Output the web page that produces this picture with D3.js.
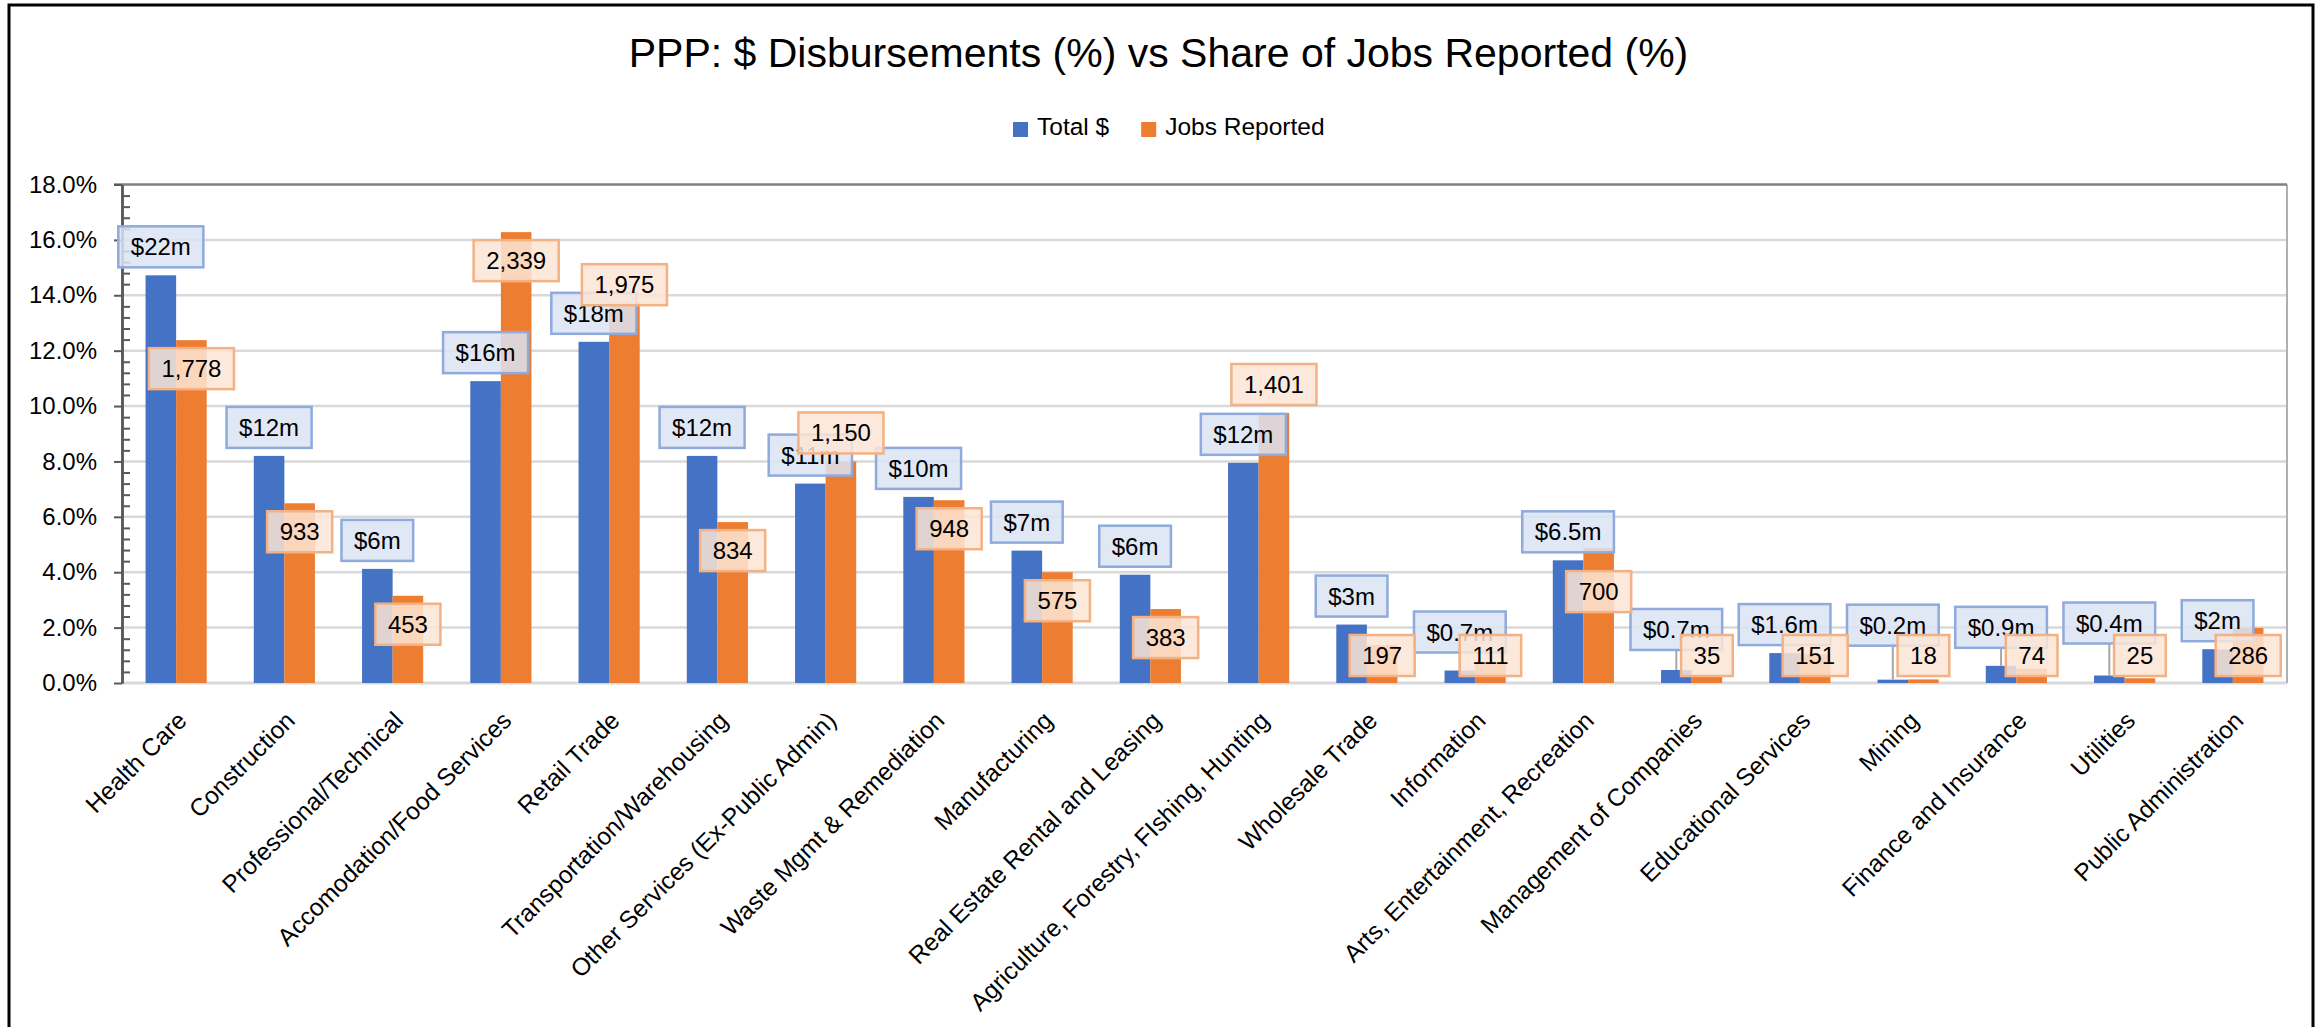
<!DOCTYPE html>
<html>
<head>
<meta charset="utf-8">
<script src="https://cdn.jsdelivr.net/npm/d3@7"></script>
<style>
  body { margin: 0; background: #ffffff; }
  text { font-family: 'Liberation Sans', Arial, sans-serif; }
</style>
</head>
<body>
<div id="vis"></div>
<script>
var w = 2323;
var h = 1027;

// industries, in the order shown
var categories = ['Health Care', 'Construction', 'Professional/Technical', 'Accomodation/Food Services',
  'Retail Trade', 'Transportation/Warehousing', 'Other Services (Ex-Public Admin)', 'Waste Mgmt & Remediation',
  'Manufacturing', 'Real Estate Rental and Leasing', 'Agriculture, Forestry, FIshing, Hunting', 'Wholesale Trade',
  'Information', 'Arts, Entertainment, Recreation', 'Management of Companies', 'Educational Services',
  'Mining', 'Finance and Insurance', 'Utilities', 'Public Administration'];

// share of $ disbursed (%)
var dollarShare = [14.72, 8.2, 4.12, 10.9, 12.32, 8.2, 7.2, 6.72, 4.78, 3.91,
  7.95, 2.11, 0.45, 4.43, 0.47, 1.08, 0.12, 0.62, 0.27, 1.22];
// share of jobs reported (%)
var jobsShare = [12.38, 6.49, 3.15, 16.28, 13.75, 5.81, 8.0, 6.6, 4.0, 2.67,
  9.75, 1.37, 0.77, 4.87, 0.24, 1.05, 0.13, 0.52, 0.17, 1.99];

var dollarLabels = ['$22m', '$12m', '$6m', '$16m', '$18m', '$12m', '$11m', '$10m', '$7m', '$6m',
  '$12m', '$3m', '$0.7m', '$6.5m', '$0.7m', '$1.6m', '$0.2m', '$0.9m', '$0.4m', '$2m'];
var jobsLabels = ['1,778', '933', '453', '2,339', '1,975', '834', '1,150', '948', '575', '383',
  '1,401', '197', '111', '700', '35', '151', '18', '74', '25', '286'];

var yTicks = [0, 2, 4, 6, 8, 10, 12, 14, 16, 18];
var seriesNames = ['Total $', 'Jobs Reported'];

// label nudges (px) where the labels were dragged in the original
var dollarNudge = [0, 0, 0, 0, 0, 0, 0, 0, 0, 0, 0, 0, -10, 0, -12, 0, -26, -10, -24, 0];
var jobsOutside = [4, 6, 10];
var jobsNudge = [0, 0, 0, 0, 11, 0, 0, 0, 0, 0, 0, 0, 0, 15, 0, 0, 0, 0, 0, 0];

var blue = '#4472c4';
var orange = '#ed7d31';

var plot = { left: 122, right: 2287, top: 184.5, bottom: 683 };

var svg = d3.select('#vis')
  .append('svg')
    .attr('width', w)
    .attr('height', h)
    .style('background', '#ffffff');

// outer chart frame
svg.append('rect')
  .attr('x', 9)
  .attr('y', 5)
  .attr('width', 2304)
  .attr('height', 1100)
  .style('fill', '#ffffff')
  .style('stroke', '#000000')
  .style('stroke-width', 3);

// title
svg.append('text')
  .attr('x', 1158.5)
  .attr('y', 67)
  .attr('text-anchor', 'middle')
  .style('font-size', '41px')
  .style('fill', '#000000')
  .text('PPP: $ Disbursements (%) vs Share of Jobs Reported (%)');

// legend
var legend = svg.append('g').attr('transform', 'translate(1013,122)');
var lx = 0;
seriesNames.forEach(function(name, i) {
  legend.append('rect')
    .attr('x', lx)
    .attr('y', 0)
    .attr('width', 15)
    .attr('height', 15)
    .style('fill', i === 0 ? blue : orange);
  var t = legend.append('text')
    .attr('x', lx + 24)
    .attr('y', 13)
    .style('font-size', '24.5px')
    .style('fill', '#000000')
    .text(name);
  lx += 24 + t.node().getComputedTextLength() + 32;
});

var x0 = d3.scaleBand()
  .domain(categories)
  .range([plot.left, plot.right])
  .paddingInner(0.435)
  .paddingOuter(0.2175);

var x1 = d3.scaleBand()
  .domain([0, 1])
  .range([0, x0.bandwidth()]);

var y = d3.scaleLinear()
  .domain([0, 18])
  .range([plot.bottom, plot.top]);

// gridlines
svg.append('g')
  .selectAll('line')
  .data(yTicks.filter(function(d) { return d > 0 && d < 18; }))
  .enter()
  .append('line')
    .attr('x1', plot.left)
    .attr('x2', plot.right)
    .attr('y1', function(d) { return y(d); })
    .attr('y2', function(d) { return y(d); })
    .style('stroke', '#d9d9d9')
    .style('stroke-width', 2.5);

// plot area edges
svg.append('line')
  .attr('x1', plot.left).attr('x2', plot.right)
  .attr('y1', y(0)).attr('y2', y(0))
  .style('stroke', '#d9d9d9').style('stroke-width', 3);
svg.append('line')
  .attr('x1', plot.right).attr('x2', plot.right)
  .attr('y1', y(18)).attr('y2', y(0))
  .style('stroke', '#b0b0b0').style('stroke-width', 2);
svg.append('line')
  .attr('x1', plot.left - 8).attr('x2', plot.right)
  .attr('y1', y(18)).attr('y2', y(18))
  .style('stroke', '#808080').style('stroke-width', 2.5);

// bars
var groups = svg.append('g')
  .selectAll('g')
  .data(categories)
  .enter()
  .append('g')
    .attr('transform', function(d) { return 'translate(' + x0(d) + ',0)'; });

groups.append('rect')
  .attr('x', x1(0))
  .attr('width', x1.bandwidth())
  .attr('y', function(d, i) { return y(dollarShare[i]); })
  .attr('height', function(d, i) { return y(0) - y(dollarShare[i]); })
  .style('fill', blue);

groups.append('rect')
  .attr('x', x1(1))
  .attr('width', x1.bandwidth())
  .attr('y', function(d, i) { return y(jobsShare[i]); })
  .attr('height', function(d, i) { return y(0) - y(jobsShare[i]); })
  .style('fill', orange);

// y axis
var yAxis = svg.append('g')
  .attr('class', 'y-axis')
  .attr('transform', 'translate(' + plot.left + ',0)')
  .call(d3.axisLeft(y)
    .tickValues(yTicks)
    .tickSize(8)
    .tickSizeOuter(0)
    .tickPadding(17)
    .tickFormat(function(d) { return d.toFixed(1) + '%'; }));

var minorTicks = d3.range(0, 18.01, 0.4).filter(function(d) {
  return Math.abs(d / 2 - Math.round(d / 2)) > 0.01;
});
var yMinor = svg.append('g')
  .attr('transform', 'translate(' + plot.left + ',0)')
  .call(d3.axisRight(y)
    .tickValues(minorTicks)
    .tickSize(8)
    .tickSizeOuter(0)
    .tickFormat(''));

[yAxis, yMinor].forEach(function(ax) {
  ax.select('.domain').style('stroke', '#595959').style('stroke-width', 2.5);
  ax.selectAll('.tick line').style('stroke', '#595959').style('stroke-width', 2);
});
yAxis.selectAll('.tick text')
  .style('font-size', '24px')
  .style('font-family', "'Liberation Sans', Arial, sans-serif")
  .style('fill', '#000000');

// category labels, rotated
svg.append('g')
  .selectAll('text')
  .data(categories)
  .enter()
  .append('text')
    .attr('transform', function(d) {
      return 'translate(' + (x0(d) + x0.bandwidth() / 2 + 6) + ',' + (plot.bottom + 33) + ') rotate(-45)';
    })
    .attr('dy', '0.35em')
    .attr('text-anchor', 'end')
    .style('font-size', '24.5px')
    .style('fill', '#000000')
    .text(function(d) { return d; });

// data labels
var boxH = 41;

function addLabel(cx, top, txt, fill, stroke) {
  var g = svg.append('g');
  var rect = g.append('rect');
  var t = g.append('text')
    .attr('x', cx)
    .attr('y', top + boxH / 2 + 8.5)
    .attr('text-anchor', 'middle')
    .style('font-size', '24px')
    .style('fill', '#000000')
    .text(txt);
  var bw = t.node().getComputedTextLength() + 25;
  rect.attr('x', cx - bw / 2)
    .attr('y', top)
    .attr('width', bw)
    .attr('height', boxH)
    .style('fill', fill)
    .style('fill-opacity', 0.85)
    .style('stroke', stroke)
    .style('stroke-width', 2.5);
}

// leader lines for dragged $ labels
categories.forEach(function(c, i) {
  if (dollarNudge[i] < 0) {
    var cx = x0(c) + x1(0) + x1.bandwidth() / 2;
    svg.append('line')
      .attr('x1', cx).attr('x2', cx)
      .attr('y1', y(dollarShare[i]) - 8 + dollarNudge[i])
      .attr('y2', y(dollarShare[i]))
      .style('stroke', '#a6a6a6')
      .style('stroke-width', 2);
  }
});

categories.forEach(function(c, i) {
  var cx = x0(c) + x1(0) + x1.bandwidth() / 2;
  var top = y(dollarShare[i]) - 8 - boxH + dollarNudge[i];
  addLabel(cx, top, dollarLabels[i], '#dae3f3', '#8faadc');
});

categories.forEach(function(c, i) {
  var cx = x0(c) + x1(1) + x1.bandwidth() / 2;
  var top;
  if (jobsOutside.indexOf(i) >= 0) {
    top = y(jobsShare[i]) - 8 - boxH;
  } else {
    top = Math.min(y(jobsShare[i]) + 8, plot.bottom - 7 - boxH);
  }
  top += jobsNudge[i];
  addLabel(cx, top, jobsLabels[i], '#fbe5d6', '#f4b183');
});
</script>
</body>
</html>
